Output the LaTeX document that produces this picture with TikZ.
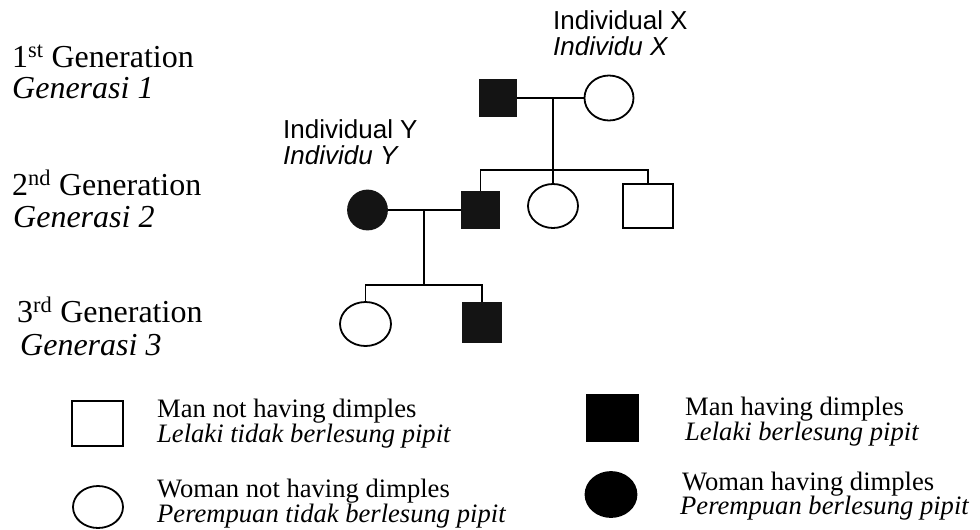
\documentclass[tikz,border=0pt]{standalone}
\usepackage{fontspec}
\setmainfont{Liberation Serif}
\newfontfamily\labsans{Liberation Sans}
\usetikzlibrary{shapes.geometric}
\tikzset{
  lw/.style={line width=1.8pt},
  malebox/.style={draw, lw, rectangle, inner sep=0pt, fill=white},
  femaleell/.style={draw, lw, ellipse, inner sep=0pt, fill=white},
  affected/.style={fill=black!92, draw=black!92},
  link/.style={lw, line cap=butt},
  gentext/.style={anchor=base west, inner sep=0pt, font=\fontsize{32}{32}\selectfont},
  indtext/.style={anchor=base west, inner sep=0pt, font=\labsans\fontsize{26}{26}\selectfont},
  legtext/.style={anchor=base west, inner sep=0pt, font=\fontsize{26.6}{26.6}\selectfont}
}
\begin{document}
\begin{tikzpicture}[x=1pt,y=-1pt]
\useasboundingbox[fill=white] (0,0) rectangle (980,530);

% generation labels
\node[gentext] (g1a) at (12,67) {1\textsuperscript{st} Generation};
\node[gentext] (g1b) at (12,98) {\itshape Generasi 1};
\node[gentext] (g2a) at (12,195) {2\textsuperscript{nd} Generation};
\node[gentext] (g2b) at (13,227) {\itshape Generasi 2};
\node[gentext] (g3a) at (17,322) {3\textsuperscript{rd} Generation};
\node[gentext] (g3b) at (20,355) {\itshape Generasi 3};

% individual labels
\node[indtext] (ixa) at (553,29) {Individual X};
\node[indtext] (ixb) at (553,55) {\itshape Individu X};
\node[indtext] (iya) at (283,138) {Individual Y};
\node[indtext] (iyb) at (283,164) {\itshape Individu Y};

% generation 1
\node[malebox, affected, minimum width=37pt, minimum height=37pt] (m1) at (498,98) {};
\node[femaleell, minimum width=49pt, minimum height=45pt] (f1) at (609,98) {};

% generation 2
\node[malebox, affected, minimum width=37pt, minimum height=37pt] (c1) at (480.5,210) {};
\node[femaleell, minimum width=50pt, minimum height=44pt] (c2) at (553,206) {};
\node[malebox, minimum width=50pt, minimum height=44pt] (c3) at (648,206) {};
\node[femaleell, affected, minimum width=39pt, minimum height=39pt] (y1) at (367.5,210) {};

% generation 3
\node[femaleell, minimum width=51pt, minimum height=44pt] (d1) at (365.5,324) {};
\node[malebox, affected, minimum width=38pt, minimum height=39pt] (d2) at (482,322.5) {};

% connection points
\coordinate (s1) at (553,170);
\coordinate (j2) at (424,210);
\coordinate (s2) at (424,285);

% connectors
\draw[link] (m1.east) -- (f1.west);
\draw[link] (c2.north |- m1.east) -- (c2.north);
\draw[link] (c1.north) -- (c1.north |- s1) -- (c3.north |- s1) -- (c3.north);
\draw[link] (y1.east) -- (c1.west);
\draw[link] (j2) -- (s2);
\draw[link] (d1.north) -- (d1.north |- s2) -- (d2.north |- s2) -- (d2.north);

% legend
\node[malebox, minimum width=51pt, minimum height=45pt] (lg1) at (97.5,423.5) {};
\node[femaleell, minimum width=50pt, minimum height=42pt] (lg2) at (98,507) {};
\node[malebox, fill=black, draw=black, minimum width=51pt, minimum height=46pt] (lg3) at (612.5,418) {};
\node[femaleell, fill=black, draw=black, minimum width=51pt, minimum height=45pt] (lg4) at (611,494.5) {};

\node[legtext] (t1a) at (157,417) {Man not having dimples};
\node[legtext] (t1b) at (157,442) {\itshape Lelaki tidak berlesung pipit};
\node[legtext] (t2a) at (157,497) {Woman not having dimples};
\node[legtext] (t2b) at (157,522) {\itshape Perempuan tidak berlesung pipit};
\node[legtext] (t3a) at (685,415) {Man having dimples};
\node[legtext] (t3b) at (685,440) {\itshape Lelaki berlesung pipit};
\node[legtext] (t4a) at (682,490) {Woman having dimples};
\node[legtext] (t4b) at (680,514) {\itshape Perempuan berlesung pipit};
\end{tikzpicture}
\end{document}
